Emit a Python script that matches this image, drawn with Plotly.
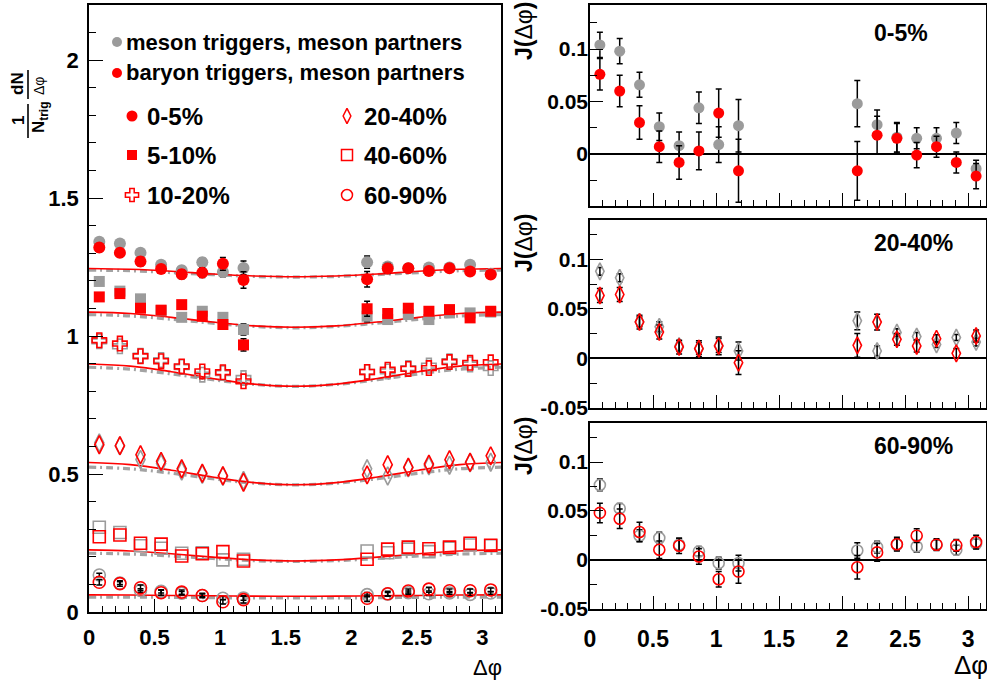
import plotly.graph_objects as go

W, H = 987, 681
PI = 3.14159

# ---------------- data ----------------
dphi = [0.0785, 0.2356, 0.3927, 0.5498, 0.7069, 0.8639, 1.0210, 1.1781,
        2.1206, 2.2777, 2.4347, 2.5918, 2.7489, 2.9060, 3.0631]
fit_x = [0, 0.314, 0.628, 0.942, 1.257, 1.571, 1.885, 2.199, 2.513, 2.827, 3.142]

# left panel: per-trigger yields
c05_gray = [1.342, 1.336, 1.302, 1.259, 1.239, 1.268, 1.232, 1.247, 1.268, 1.252, 1.246, 1.249, 1.249, 1.259, 1.226]
c05_gray_err = [0.012, 0.012, 0.012, 0.013, 0.013, 0.015, 0.017, 0.025, 0.022, 0.014, 0.014, 0.010, 0.010, 0.010, 0.008]
c05_red = [1.321, 1.302, 1.270, 1.243, 1.224, 1.230, 1.262, 1.203, 1.206, 1.245, 1.246, 1.236, 1.246, 1.234, 1.223]
c05_red_err = [0.015, 0.015, 0.016, 0.015, 0.016, 0.018, 0.023, 0.030, 0.028, 0.018, 0.014, 0.012, 0.010, 0.010, 0.012]

c510_gray = [1.198, 1.163, 1.135, 1.092, 1.068, 1.090, 1.068, 1.024, 1.072, 1.060, 1.078, 1.060, 1.084, 1.084, 1.087]
c510_gray_err = [0.008, 0.008, 0.008, 0.008, 0.008, 0.009, 0.010, 0.020, 0.020, 0.009, 0.008, 0.008, 0.008, 0.008, 0.008]
c510_red = [1.142, 1.154, 1.101, 1.094, 1.114, 1.072, 1.042, 0.968, 1.099, 1.082, 1.101, 1.090, 1.096, 1.066, 1.090]
c510_red_err = [0.010, 0.010, 0.010, 0.010, 0.010, 0.012, 0.014, 0.022, 0.027, 0.012, 0.010, 0.010, 0.010, 0.010, 0.010]

c1020_gray = [0.981, 0.963, 0.929, 0.913, 0.888, 0.860, 0.866, 0.848, 0.870, 0.872, 0.884, 0.893, 0.909, 0.897, 0.884]
c1020_red = [0.985, 0.973, 0.927, 0.909, 0.890, 0.872, 0.869, 0.836, 0.870, 0.878, 0.881, 0.884, 0.906, 0.903, 0.905]

c2040_gray = [0.613, 0.602, 0.553, 0.538, 0.511, 0.499, 0.492, 0.477, 0.519, 0.493, 0.523, 0.530, 0.532, 0.541, 0.543]
c2040_red = [0.606, 0.603, 0.570, 0.546, 0.519, 0.503, 0.494, 0.470, 0.497, 0.534, 0.525, 0.536, 0.552, 0.543, 0.566]

c4060_gray = [0.307, 0.288, 0.240, 0.231, 0.213, 0.215, 0.189, 0.191, 0.221, 0.215, 0.228, 0.219, 0.231, 0.243, 0.240]
c4060_red = [0.273, 0.279, 0.249, 0.246, 0.203, 0.211, 0.219, 0.185, 0.191, 0.228, 0.235, 0.229, 0.235, 0.249, 0.242]

c6090_gray = [0.134, 0.105, 0.078, 0.075, 0.068, 0.060, 0.050, 0.051, 0.063, 0.065, 0.070, 0.066, 0.069, 0.064, 0.069]
c6090_gray_err = [0.006, 0.005, 0.006, 0.006, 0.006, 0.005, 0.006, 0.008, 0.008, 0.006, 0.006, 0.006, 0.005, 0.005, 0.005]
c6090_red = [0.108, 0.103, 0.088, 0.070, 0.072, 0.060, 0.037, 0.045, 0.050, 0.066, 0.076, 0.083, 0.077, 0.077, 0.080]
c6090_red_err = [0.010, 0.010, 0.010, 0.009, 0.008, 0.008, 0.008, 0.012, 0.012, 0.009, 0.007, 0.007, 0.006, 0.006, 0.007]

# fit curves (red = baryon triggers, gray = meson triggers)
fit05_red = [1.245, 1.242, 1.235, 1.225, 1.218, 1.215, 1.218, 1.225, 1.235, 1.242, 1.245]
fit05_gray = [1.239, 1.237, 1.230, 1.223, 1.216, 1.214, 1.216, 1.223, 1.230, 1.237, 1.239]
fit510_red = [1.087, 1.082, 1.068, 1.051, 1.037, 1.032, 1.037, 1.051, 1.068, 1.082, 1.087]
fit510_gray = [1.078, 1.073, 1.061, 1.047, 1.035, 1.030, 1.035, 1.047, 1.061, 1.073, 1.078]
fit1020_red = [0.899, 0.891, 0.871, 0.846, 0.826, 0.818, 0.826, 0.846, 0.871, 0.891, 0.899]
fit1020_gray = [0.887, 0.880, 0.863, 0.842, 0.825, 0.818, 0.825, 0.842, 0.863, 0.880, 0.887]
fit2040_red = [0.542, 0.534, 0.514, 0.489, 0.469, 0.461, 0.469, 0.489, 0.514, 0.534, 0.542]
fit2040_gray = [0.525, 0.519, 0.503, 0.483, 0.467, 0.461, 0.467, 0.483, 0.503, 0.519, 0.525]
fit4060_red = [0.225, 0.221, 0.211, 0.199, 0.189, 0.185, 0.189, 0.199, 0.211, 0.221, 0.225]
fit4060_gray = [0.213, 0.210, 0.203, 0.194, 0.186, 0.183, 0.186, 0.194, 0.203, 0.210, 0.213]
fit6090_red = [0.062, 0.0615, 0.060, 0.059, 0.0575, 0.057, 0.0575, 0.059, 0.060, 0.0615, 0.062]
fit6090_gray = [0.054, 0.054, 0.053, 0.052, 0.051, 0.051, 0.051, 0.052, 0.053, 0.054, 0.054]

# right panels: jet functions J(dphi)
j05_gray = [0.104, 0.098, 0.066, 0.026, 0.008, 0.044, 0.009, 0.027, 0.048, 0.028, 0.016, 0.015, 0.015, 0.020, -0.014]
j05_gray_err = c05_gray_err
j05_red = [0.076, 0.060, 0.030, 0.007, -0.008, 0.003, 0.039, -0.016, -0.016, 0.018, 0.015, -0.001, 0.007, -0.008, -0.021]
j05_red_err = c05_red_err

j2040_gray = [0.088, 0.0815, 0.037, 0.032, 0.0125, 0.010, 0.013, 0.0074, 0.038, 0.0074, 0.026, 0.022, 0.014, 0.021, 0.0165]
j2040_gray_err = [0.004, 0.004, 0.005, 0.005, 0.005, 0.006, 0.007, 0.009, 0.009, 0.005, 0.004, 0.004, 0.003, 0.003, 0.004]
j2040_red = [0.0636, 0.0646, 0.0367, 0.0266, 0.0114, 0.0098, 0.0125, -0.0044, 0.0131, 0.0367, 0.0192, 0.0125, 0.0199, 0.005, 0.0226]
j2040_red_err = [0.007, 0.007, 0.007, 0.007, 0.007, 0.008, 0.009, 0.012, 0.012, 0.008, 0.006, 0.006, 0.004, 0.005, 0.006]

j6090_gray = [0.0766, 0.0526, 0.0247, 0.0223, 0.0155, 0.0086, -0.0034, -0.0034, 0.0096, 0.013, 0.0155, 0.0137, 0.0155, 0.0103, 0.0165]
j6090_gray_err = c6090_gray_err
j6090_red = [0.048, 0.042, 0.0285, 0.0103, 0.0144, 0.0034, -0.0199, -0.012, -0.0076, 0.0076, 0.016, 0.0247, 0.0155, 0.0148, 0.0182]
j6090_red_err = c6090_red_err

left_labels = ["0-5%", "5-10%", "10-20%", "20-40%", "40-60%", "60-90%"]

# ---------------- style ----------------
GRAY = '#9b9b9b'
RED = '#ff0000'
FONT = 'Liberation Sans, Arial, Helvetica, sans-serif'

fig = go.Figure()

def line_pair(fr, fg, xa, ya):
    fig.add_trace(go.Scatter(x=fit_x, y=fg, mode='lines', line_shape='spline',
                             line=dict(color='#a3a3a3', width=3.2, dash='7px,4px,2px,4px'),
                             xaxis=xa, yaxis=ya, hoverinfo='skip'))
    fig.add_trace(go.Scatter(x=fit_x, y=fr, mode='lines', line_shape='spline',
                             line=dict(color=RED, width=1.6),
                             xaxis=xa, yaxis=ya, hoverinfo='skip'))

def pts(y, color, symbol, size, xa, ya, err=None, lw=1.6):
    filled = not symbol.endswith('open')
    m = dict(symbol=symbol, size=size, color=color,
             line=dict(color=color, width=0 if filled else lw))
    kw = {}
    if err is not None:
        kw['error_y'] = dict(type='data', array=err, color='black', thickness=1.5, width=3)
    fig.add_trace(go.Scatter(x=dphi, y=y, mode='markers', marker=m,
                             xaxis=xa, yaxis=ya, hoverinfo='skip', **kw))

# left panel curves
for fr, fg in [(fit05_red, fit05_gray), (fit510_red, fit510_gray), (fit1020_red, fit1020_gray),
               (fit2040_red, fit2040_gray), (fit4060_red, fit4060_gray), (fit6090_red, fit6090_gray)]:
    line_pair(fr, fg, 'x', 'y')

# left panel points
pts(c05_gray, GRAY, 'circle', 12, 'x', 'y', c05_gray_err)
pts(c510_gray, GRAY, 'square', 11, 'x', 'y', c510_gray_err)
pts(c1020_gray, GRAY, 'cross-open', 12, 'x', 'y')
pts(c2040_gray, GRAY, 'diamond-tall-open', 13, 'x', 'y')
pts(c4060_gray, GRAY, 'square-open', 12, 'x', 'y')
pts(c6090_gray, GRAY, 'circle-open', 12, 'x', 'y', c6090_gray_err)
pts(c05_red, RED, 'circle', 12, 'x', 'y', c05_red_err)
pts(c510_red, RED, 'square', 11, 'x', 'y', c510_red_err)
pts(c1020_red, RED, 'cross-open', 12, 'x', 'y')
pts(c2040_red, RED, 'diamond-tall-open', 13, 'x', 'y')
pts(c4060_red, RED, 'square-open', 12, 'x', 'y')
pts(c6090_red, RED, 'circle-open', 12, 'x', 'y', c6090_red_err)

# right panels
pts(j05_gray, GRAY, 'circle', 11, 'x2', 'y2', j05_gray_err)
pts(j05_red, RED, 'circle', 11, 'x2', 'y2', j05_red_err)
pts(j2040_gray, GRAY, 'diamond-tall-open', 12, 'x3', 'y3', j2040_gray_err)
pts(j2040_red, RED, 'diamond-tall-open', 12, 'x3', 'y3', j2040_red_err)
pts(j6090_gray, GRAY, 'circle-open', 11, 'x4', 'y4', j6090_gray_err)
pts(j6090_red, RED, 'circle-open', 11, 'x4', 'y4', j6090_red_err)

# ---------------- legend glyphs (pixel-positioned on an overlay axis) ----------------
leg_items = [
    (117, 42, 'circle', GRAY, 10), (117, 73, 'circle', RED, 10),
    (132, 116, 'circle', RED, 11), (132, 155, 'square', RED, 10), (132, 195, 'cross-open', RED, 11),
    (347, 116, 'diamond-tall-open', RED, 11), (347, 155, 'square-open', RED, 11), (347, 195, 'circle-open', RED, 11),
]
for lx, ly, sym, col, sz in leg_items:
    filled = not sym.endswith('open')
    fig.add_trace(go.Scatter(x=[lx], y=[ly], mode='markers', xaxis='x5', yaxis='y5', hoverinfo='skip',
                             marker=dict(symbol=sym, size=sz, color=col,
                                         line=dict(color=col, width=0 if filled else 1.5))))

def px(x):
    return x / W

def py(y):
    return 1 - y / H

def xax(dom, labels=True, size=22, standoff=5):
    return dict(domain=dom, range=[0, PI], tickvals=[0, 0.5, 1, 1.5, 2, 2.5, 3],
                ticktext=['0', '0.5', '1', '1.5', '2', '2.5', '3'],
                ticks='inside', ticklen=13, tickwidth=1.3, tickcolor='black',
                minor=dict(dtick=0.1, tick0=0, ticks='inside', ticklen=6, tickwidth=1.2, tickcolor='black'),
                showline=True, linecolor='black', linewidth=1.5, mirror=True,
                showgrid=False, zeroline=False, showticklabels=labels, automargin=False,
                tickfont=dict(family=FONT, size=size, color='black', weight='bold'),
                ticklabelstandoff=standoff)

def yax_right(dom, rng, anchor, vals):
    return dict(domain=dom, range=rng, anchor=anchor, tickvals=vals,
                ticktext=[('%g' % v) for v in vals],
                ticks='inside', ticklen=13, tickwidth=1.3, tickcolor='black',
                minor=dict(dtick=0.025, tick0=0, ticks='inside', ticklen=7, tickwidth=1.2, tickcolor='black'),
                showline=True, linecolor='black', linewidth=1.5, mirror=True, automargin=False,
                showgrid=False, zeroline=True, zerolinecolor='black', zerolinewidth=1.5,
                tickfont=dict(family=FONT, size=21, color='black', weight='bold'),
                ticklabelstandoff=-4)

xl = [px(89), px(501)]
xr = [px(590), px(986)]

fig.update_layout(
    width=W, height=H, autosize=False,
    margin=dict(l=0, r=0, t=0, b=0, pad=0, autoexpand=False),
    paper_bgcolor='white', plot_bgcolor='rgba(0,0,0,0)',
    showlegend=False,
    xaxis=dict(xax(xl, True, 22, 5), anchor='y'),
    yaxis=dict(domain=[py(612), py(5)], range=[0, 2.2], anchor='x',
               tickvals=[0, 0.5, 1, 1.5, 2], ticktext=['0', '0.5', '1', '1.5', '2'],
               ticks='inside', ticklen=14, tickwidth=1.3, tickcolor='black',
               minor=dict(dtick=0.1, tick0=0, ticks='inside', ticklen=7, tickwidth=1.2, tickcolor='black'),
               showline=True, linecolor='black', linewidth=1.5, mirror=True, automargin=False,
               showgrid=False, zeroline=False, tickfont=dict(family=FONT, size=22, color='black', weight='bold'),
               ticklabelstandoff=4),
    xaxis2=dict(xax(xr, False), anchor='y2'),
    yaxis2=yax_right([py(206), py(5)], [-0.0495, 0.142], 'x2', [0, 0.05, 0.1]),
    xaxis3=dict(xax(xr, False), anchor='y3'),
    yaxis3=yax_right([py(408), py(220)], [-0.0503, 0.14], 'x3', [-0.05, 0, 0.05, 0.1]),
    xaxis4=dict(xax(xr, True, 23, 9), anchor='y4'),
    yaxis4=yax_right([py(609), py(423)], [-0.0503, 0.14], 'x4', [-0.05, 0, 0.05, 0.1]),
    xaxis5=dict(domain=[0, 1], range=[0, W], visible=False, anchor='y5', fixedrange=True, automargin=False),
    yaxis5=dict(domain=[0, 1], range=[H, 0], visible=False, anchor='x5', fixedrange=True, automargin=False),
)

ann = []
def text(x, y, s, size=20, bold=True, xanchor='left', angle=0, color='black'):
    ann.append(dict(x=px(x), y=py(y), xref='paper', yref='paper', text=s, showarrow=False,
                    xanchor=xanchor, yanchor='middle', textangle=angle,
                    font=dict(family=FONT, size=size, color=color, weight='bold' if bold else 'normal')))

# legend texts
text(124, 42, 'meson triggers, meson partners', 22)
text(124, 73, 'baryon triggers, meson partners', 22)
text(145, 116, left_labels[0], 24)
text(145, 155, left_labels[1], 24)
text(145, 195, left_labels[2], 24)
text(362, 116, left_labels[3], 24)
text(362, 155, left_labels[4], 24)
text(362, 195, left_labels[5], 24)

# panel labels
text(901, 33, '0-5%', 23, xanchor='center')
text(913, 243, '20-40%', 23, xanchor='center')
text(913, 446, '60-90%', 23, xanchor='center')

# axis titles
text(487, 667, 'Δφ', 22, bold=False, xanchor='center')
text(971, 665, 'Δφ', 26, bold=False, xanchor='center')
for yy in (31, 243, 446):
    text(524, yy, '<b>J(</b>Δφ<b>)</b>', 23, bold=False, xanchor='center', angle=-90)

# left y title: 1/N_trig dN/dΔφ (rotated fraction)
text(18, 121, '1', 17, xanchor='center', angle=-90)
text(40, 118, 'N<sub>trig</sub>', 17, xanchor='center', angle=-90)
text(18, 84, 'dN', 17, xanchor='center', angle=-90)
text(39, 86, 'Δφ', 14, bold=False, xanchor='center', angle=-90)

fig.update_layout(annotations=ann)
fig.update_layout(shapes=[
    dict(type='line', xref='paper', yref='paper', x0=px(28), x1=px(28), y0=py(104), y1=py(138),
         line=dict(color='black', width=1.6)),
    dict(type='line', xref='paper', yref='paper', x0=px(28), x1=px(28), y0=py(70), y1=py(99),
         line=dict(color='black', width=1.6)),
])

fig.write_html('out.html', config={'displayModeBar': False},
               post_script="document.body.style.margin='0px';")
